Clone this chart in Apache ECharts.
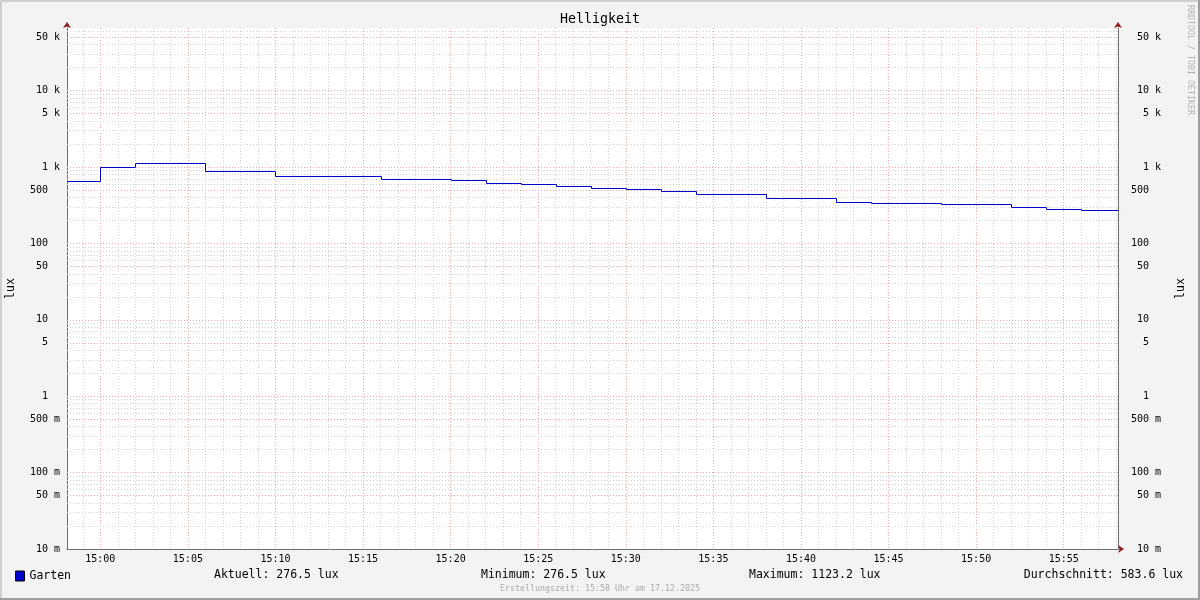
<!DOCTYPE html>
<html><head><meta charset="utf-8">
<script src="https://cdn.jsdelivr.net/npm/echarts@6/dist/echarts.min.js"></script>
<style>html,body{margin:0;padding:0;background:#f3f3f3}#c{width:1200px;height:600px}</style>
</head><body><div id="c"></div>
<script>
// ---------- data ----------
const chartTitle = 'Helligkeit';
const unitLabel = 'lux';
const seriesName = 'Garten';
const windowStart = '14:58:06';
const windowEnd = '15:58:06';
// times at which each level begins (last entry = end of window)
const stepTimes = ['14:58:06','15:00','15:02','15:06','15:10','15:16','15:20','15:22','15:24','15:26','15:28',
                   '15:30','15:32','15:34','15:38','15:42','15:44','15:48','15:52','15:54','15:56','15:58:06'];
const gartenLux = [659, 989, 1123.2, 886, 761, 705, 673, 616, 597, 563, 531,
                   515, 490, 444, 395, 350, 340, 330, 302, 285, 276.5, 276.5];
const yMin = 0.01;
const yMax = 66000;
const yTickValues = [50000, 10000, 5000, 1000, 500, 100, 50, 10, 5, 1, 0.5, 0.1, 0.05, 0.01];
const yTickLabels = ['50 k','10 k','5 k','1 k','500','100','50','10','5','1','500 m','100 m','50 m','10 m'];
const minorMultipliers = [2, 3, 4, 6, 7, 8, 9];
const decades = [0.01, 0.1, 1, 10, 100, 1000, 10000];
const statLabels = ['Aktuell', 'Minimum', 'Maximum', 'Durchschnitt'];
const statValues = ['276.5', '276.5', '1123.2', '583.6'];
const footerText = 'Erstellungszeit: 15:58 Uhr am 17.12.2025';
const watermarkText = 'RRDTOOL / TOBI OETIKER';

// ---------- helpers ----------
function toMs(t) {
  const p = t.split(':').map(Number);
  return Date.UTC(2025, 11, 17, p[0], p[1], p[2] || 0);
}
function two(n) { return (n < 10 ? '0' : '') + n; }
function padLabel(s) {
  const parts = s.split(' ');
  return parts[0].padStart(3, ' ') + ' ' + (parts[1] || ' ');
}
const MONO = '"DejaVu Sans Mono", "Liberation Mono", monospace';
const GRID_GRAY = '#d2d2d2';
const GRID_RED = '#f0a6a6';
const AXIS_GRAY = '#6e6e6e';
const ARROW_RED = '#8b1a1a';
const LINE_BLUE = '#0000cc';
const CLEAR = 'rgba(0,0,0,0)';
const DOT = [1, 2];

const tMin = toMs(windowStart), tMax = toMs(windowEnd);
const stepData = [];
for (let i = 0; i < stepTimes.length - 1; i++) {
  stepData.push([toMs(stepTimes[i]), gartenLux[i], toMs(stepTimes[i + 1]), gartenLux[i + 1]]);
}

const minorValues = [];
decades.forEach(d => minorMultipliers.forEach(m => { const v = d * m; if (v < yMax) minorValues.push(v); }));

const labelFont = { fontFamily: MONO, fontSize: 10, color: '#000' };

const majorLeft = yTickValues.map((v, i) => ({
  yAxis: v,
  lineStyle: { color: v === yMin ? CLEAR : GRID_RED, type: DOT, width: 1 },
  label: Object.assign({ show: true, position: 'start', distance: 7, formatter: padLabel(yTickLabels[i]) }, labelFont)
}));
const majorRight = yTickValues.map((v, i) => ({
  yAxis: v,
  lineStyle: { color: CLEAR, width: 1 },
  label: Object.assign({ show: true, position: 'end', distance: 13, formatter: padLabel(yTickLabels[i]) }, labelFont)
}));
const minorLines = minorValues.map(v => ({ yAxis: v }));

const baseX = { type: 'value', min: tMin, max: tMax, gridIndex: 0, position: 'bottom' };
const baseY = { type: 'log', logBase: 10, min: yMin, max: yMax, gridIndex: 0 };
const off = { axisTick: { show: false }, axisLabel: { show: false }, splitLine: { show: false } };
const arrowLine = { show: true, onZero: false, symbol: ['none', 'arrow'], symbolSize: [6, 6], symbolOffset: [0, 6],
                    lineStyle: { color: ARROW_RED, width: 0 } };

const option = {
  animation: false,
  backgroundColor: '#f3f3f3',
  title: {
    text: chartTitle, left: 'center', top: 13, padding: 0,
    textStyle: { fontFamily: MONO, fontSize: 13.3, fontWeight: 'normal', color: '#000' }
  },
  legend: {
    data: [seriesName], left: 15, top: 570, padding: 0,
    icon: 'rect', itemWidth: 9, itemHeight: 10, itemGap: 6,
    itemStyle: { borderColor: '#000', borderWidth: 1 },
    textStyle: { fontFamily: MONO, fontSize: 11.5, color: '#000' }
  },
  grid: { left: 67, right: 82, top: 28, bottom: 51, show: true, backgroundColor: '#fff', borderWidth: 0,
          containLabel: false, outerBoundsMode: 'none' },
  xAxis: [
    Object.assign({}, baseX, off, {
      minInterval: 60000, maxInterval: 60000,
      axisLine: { show: false },
      splitLine: { show: true, lineStyle: { color: GRID_GRAY, type: DOT, width: 1 } }
    }),
    Object.assign({}, baseX, {
      minInterval: 300000, maxInterval: 300000,
      axisLine: { show: true, onZero: false, lineStyle: { color: AXIS_GRAY, width: 1 } },
      axisTick: { show: false },
      axisLabel: Object.assign({}, labelFont, {
        show: true, margin: 5, showMinLabel: false, showMaxLabel: false,
        formatter: v => { const d = new Date(v); return two(d.getUTCHours()) + ':' + two(d.getUTCMinutes()); }
      }),
      splitLine: { show: true, lineStyle: { color: GRID_RED, type: DOT, width: 1 } }
    }),
    Object.assign({}, baseX, off, { z: 5, axisLine: arrowLine })
  ],
  yAxis: [
    Object.assign({}, baseY, off, {
      position: 'left',
      axisLine: { show: true, onZero: false, lineStyle: { color: AXIS_GRAY, width: 1 } },
      name: unitLabel, nameLocation: 'middle', nameGap: 50, nameRotate: 90,
      nameTextStyle: { fontFamily: MONO, fontSize: 11.5, color: '#000' }
    }),
    Object.assign({}, baseY, off, {
      position: 'right',
      axisLine: { show: true, onZero: false, lineStyle: { color: AXIS_GRAY, width: 1 } },
      name: unitLabel, nameLocation: 'middle', nameGap: 57, nameRotate: 90,
      nameTextStyle: { fontFamily: MONO, fontSize: 11.5, color: '#000' }
    }),
    Object.assign({}, baseY, off, { position: 'left', z: 5, axisLine: arrowLine }),
    Object.assign({}, baseY, off, { position: 'right', z: 5, axisLine: arrowLine })
  ],
  series: [
    {
      name: 'minorGrid', type: 'line', xAxisIndex: 1, yAxisIndex: 0, data: [], z: 1, silent: true,
      markLine: { silent: true, symbol: 'none', z: 1, animation: false,
        lineStyle: { color: GRID_GRAY, type: DOT, width: 1 }, label: { show: false }, data: minorLines }
    },
    {
      name: 'majorGrid', type: 'line', xAxisIndex: 1, yAxisIndex: 0, data: [], z: 1, silent: true,
      markLine: { silent: true, symbol: 'none', z: 1, animation: false, data: majorLeft }
    },
    {
      name: 'rightLabels', type: 'line', xAxisIndex: 1, yAxisIndex: 0, data: [], z: 1, silent: true,
      markLine: { silent: true, symbol: 'none', z: 1, animation: false, data: majorRight }
    },
    {
      name: seriesName, type: 'custom', xAxisIndex: 1, yAxisIndex: 0, z: 3,
      itemStyle: { color: LINE_BLUE },
      encode: { x: [0, 2], y: [1, 3] },
      data: stepData,
      renderItem: function (params, api) {
        const a = api.coord([api.value(0), api.value(1)]);
        const b = api.coord([api.value(2), api.value(1)]);
        const c = api.coord([api.value(2), api.value(3)]);
        const px = v => Math.round(v) + 0.5;
        return {
          type: 'polyline',
          shape: { points: [[px(a[0]), px(a[1])], [px(b[0]), px(b[1])], [px(c[0]), px(c[1])]] },
          style: { stroke: LINE_BLUE, lineWidth: 1, fill: null }
        };
      }
    }
  ],
  graphic: [
    { type: 'rect', shape: { x: 0, y: 0, width: 1200, height: 2 }, style: { fill: '#cfcfcf' }, silent: true },
    { type: 'rect', shape: { x: 0, y: 0, width: 2, height: 600 }, style: { fill: '#cfcfcf' }, silent: true },
    { type: 'rect', shape: { x: 0, y: 598, width: 1200, height: 2 }, style: { fill: '#9e9e9e' }, silent: true },
    { type: 'rect', shape: { x: 1198, y: 0, width: 2, height: 600 }, style: { fill: '#9e9e9e' }, silent: true },
    { type: 'text', x: 214, y: 575, silent: true,
      style: { text: statLabels[0] + ': ' + statValues[0] + ' ' + unitLabel, font: '11.5px ' + MONO, fill: '#000', align: 'left', verticalAlign: 'middle' } },
    { type: 'text', x: 481, y: 575, silent: true,
      style: { text: statLabels[1] + ': ' + statValues[1] + ' ' + unitLabel, font: '11.5px ' + MONO, fill: '#000', align: 'left', verticalAlign: 'middle' } },
    { type: 'text', x: 749, y: 575, silent: true,
      style: { text: statLabels[2] + ': ' + statValues[2] + ' ' + unitLabel, font: '11.5px ' + MONO, fill: '#000', align: 'left', verticalAlign: 'middle' } },
    { type: 'text', x: 1183, y: 575, silent: true,
      style: { text: statLabels[3] + ': ' + statValues[3] + ' ' + unitLabel, font: '11.5px ' + MONO, fill: '#000', align: 'right', verticalAlign: 'middle' } },
    { type: 'text', x: 600, y: 589, silent: true,
      style: { text: footerText, font: '8.3px ' + MONO, fill: '#ababab', align: 'center', verticalAlign: 'middle' } },
    { type: 'text', x: 1190, y: 5, rotation: -Math.PI / 2, silent: true,
      style: { text: watermarkText, font: '8.3px ' + MONO, fill: '#b4b4b4', align: 'left', verticalAlign: 'middle' } }
  ]
};

const chart = echarts.init(document.getElementById('c'), null, { renderer: 'canvas' });
chart.setOption(option);
</script>
</body></html>
